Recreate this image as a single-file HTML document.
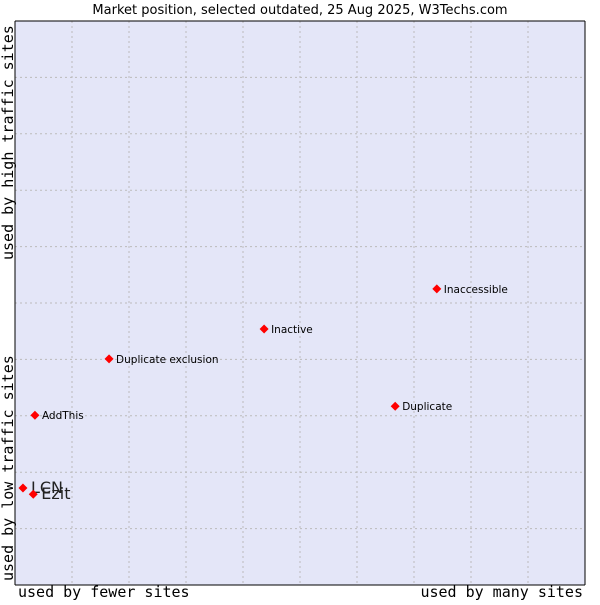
<!DOCTYPE html>
<html><head><meta charset="utf-8"><style>
body{margin:0;background:#fff;}
svg text{font-family:"DejaVu Sans","Liberation Sans",sans-serif;}
.ax{font-family:"DejaVu Sans Mono","Liberation Mono",monospace;font-size:15px;fill:#000;}
</style></head><body>
<svg id="chart" width="600" height="600">
<text x="300" y="14" text-anchor="middle" font-size="13">Market position, selected outdated, 25 Aug 2025, W3Techs.com</text>
<rect x="15" y="21" width="570" height="564" fill="#e4e6f8"/>
<g id="grid"></g>
<line x1="15" y1="21" x2="15" y2="585" stroke="#000"/>
<line x1="15" y1="585" x2="585" y2="585" stroke="#000"/>
<line x1="585" y1="21" x2="585" y2="585" stroke="#000"/>
<line x1="15" y1="21" x2="585" y2="21" stroke="#000"/>
<g id="points"></g>
<text class="ax" x="18" y="597">used by fewer sites</text>
<text class="ax" x="583" y="597" text-anchor="end">used by many sites</text>
<text class="ax" transform="translate(13,581) rotate(-90)">used by low traffic sites</text>
<text class="ax" transform="translate(13,260) rotate(-90)">used by high traffic sites</text>
</svg>
<script>
const names=["LCN","Ezit","AddThis","Duplicate exclusion","Inactive","Inaccessible","Duplicate"];
const xVals=[1.4,3.2,3.5,16.5,43.7,74.0,66.7];
const yVals=[17.2,16.1,30.1,40.1,45.4,52.5,31.7];
const big=[true,true,false,false,false,false,false];
const X0=15,X1=585,Y0=585,Y1=21;
function sx(v){return X0+(X1-X0)*v/100;}
function sy(v){return Y0-(Y0-Y1)*v/100;}
const NS="http://www.w3.org/2000/svg";
const grid=document.getElementById('grid');
for(let i=1;i<10;i++){
  const l=document.createElementNS(NS,'line');
  l.setAttribute('x1',sx(i*10));l.setAttribute('x2',sx(i*10));
  l.setAttribute('y1',Y1);l.setAttribute('y2',Y0);
  l.setAttribute('stroke','#bbb');l.setAttribute('stroke-dasharray','2,3');
  
  
  grid.appendChild(l);
  const h=document.createElementNS(NS,'line');
  h.setAttribute('x1',X0);h.setAttribute('x2',X1);
  h.setAttribute('y1',sy(i*10));h.setAttribute('y2',sy(i*10));
  h.setAttribute('stroke','#bbb');h.setAttribute('stroke-dasharray','2,3');
  
  
  grid.appendChild(h);
}
const pts=document.getElementById('points');
names.forEach((n,i)=>{
  const x=sx(xVals[i]),y=sy(yVals[i]);
  const g=document.createElementNS(NS,'g');
  
  
  const d=document.createElementNS(NS,'polygon');
  d.setAttribute('points',`${x},${y-4.5} ${x+4.5},${y} ${x},${y+4.5} ${x-4.5},${y}`);
  d.setAttribute('fill','#f00');
  
  
  g.appendChild(d);
  const t=document.createElementNS(NS,'text');
  t.setAttribute('x',x+(big[i]?8:7));
  t.setAttribute('y',y+(big[i]?5:4));
  t.setAttribute('font-size',big[i]?16:10.5);
  t.setAttribute('fill',big[i]?'#222':'#000');
  t.textContent=n;
  
  
  g.appendChild(t);
  pts.appendChild(g);
});
</script>
</body></html>
